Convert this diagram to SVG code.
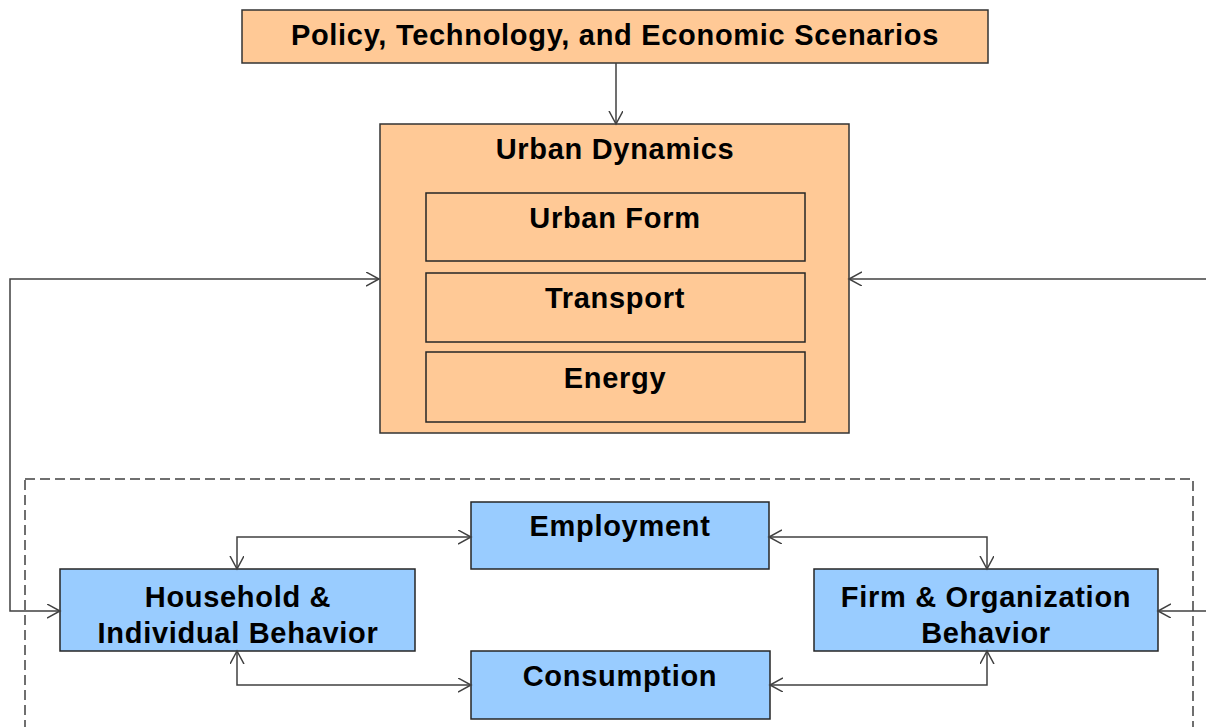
<svg xmlns="http://www.w3.org/2000/svg" width="1206" height="727" viewBox="0 0 1206 727">
<defs>
<style>
.org{fill:#FFC996;stroke:#333333;stroke-width:1.5}
.inner{fill:#FFC996;stroke:#262626;stroke-width:1.5}
.blue{fill:#99CCFF;stroke:#262626;stroke-width:1.5}
.t{font-family:"Liberation Sans",Arial,sans-serif;font-weight:bold;font-size:29px;fill:#000;text-anchor:middle;letter-spacing:0.7px}
.c{fill:none;stroke:#404040;stroke-width:1.5;marker-end:url(#arr)}
.cb{fill:none;stroke:#404040;stroke-width:1.5;marker-start:url(#arr);marker-end:url(#arr)}
.dash{fill:none;stroke:#404040;stroke-width:1.5;stroke-dasharray:10 5}
</style>
<marker id="arr" markerUnits="userSpaceOnUse" markerWidth="16" markerHeight="16" refX="13" refY="7" orient="auto-start-reverse">
<path d="M0,0 L13,7 L0,14" fill="none" stroke="#404040" stroke-width="1.5"/>
</marker>
</defs>
<rect class="dash" x="25" y="479" width="1168" height="300"/>
<g id="scenarios">
<rect class="org" x="242" y="10" width="746" height="53"/>
<text class="t" x="615" y="45">Policy, Technology, and Economic Scenarios</text>
</g>
<g id="urban-dynamics">
<rect class="org" x="380" y="124" width="469" height="309"/>
<text class="t" x="615" y="159">Urban Dynamics</text>
</g>
<g id="urban-form">
<rect class="inner" x="426" y="193" width="379" height="68"/>
<text class="t" x="615" y="228">Urban Form</text>
</g>
<g id="transport">
<rect class="inner" x="426" y="273" width="379" height="69"/>
<text class="t" x="615" y="308">Transport</text>
</g>
<g id="energy">
<rect class="inner" x="426" y="352" width="379" height="70"/>
<text class="t" x="615" y="388">Energy</text>
</g>
<g id="employment">
<rect class="blue" x="471" y="502" width="298" height="67"/>
<text class="t" x="620" y="536">Employment</text>
</g>
<g id="household">
<rect class="blue" x="60" y="569" width="355" height="82"/>
<text class="t" x="238" y="607">Household &amp;</text>
<text class="t" x="238" y="643">Individual Behavior</text>
</g>
<g id="firm">
<rect class="blue" x="814" y="569" width="344" height="82"/>
<text class="t" x="986" y="607">Firm &amp; Organization</text>
<text class="t" x="986" y="643">Behavior</text>
</g>
<g id="consumption">
<rect class="blue" x="471" y="651" width="299" height="68"/>
<text class="t" x="620" y="686">Consumption</text>
</g>
<g id="connectors">
<path class="c" d="M616,63 V124"/>
<path class="cb" d="M60,611 H10 V279 H379"/>
<path class="c" d="M1210,279 H849"/>
<path class="c" d="M1210,611 H1158"/>
<path class="cb" d="M237,569 V537 H471"/>
<path class="cb" d="M769,537 H987 V569"/>
<path class="cb" d="M237,651 V685 H471"/>
<path class="cb" d="M770,685 H987 V651"/>
</g>
</svg>
